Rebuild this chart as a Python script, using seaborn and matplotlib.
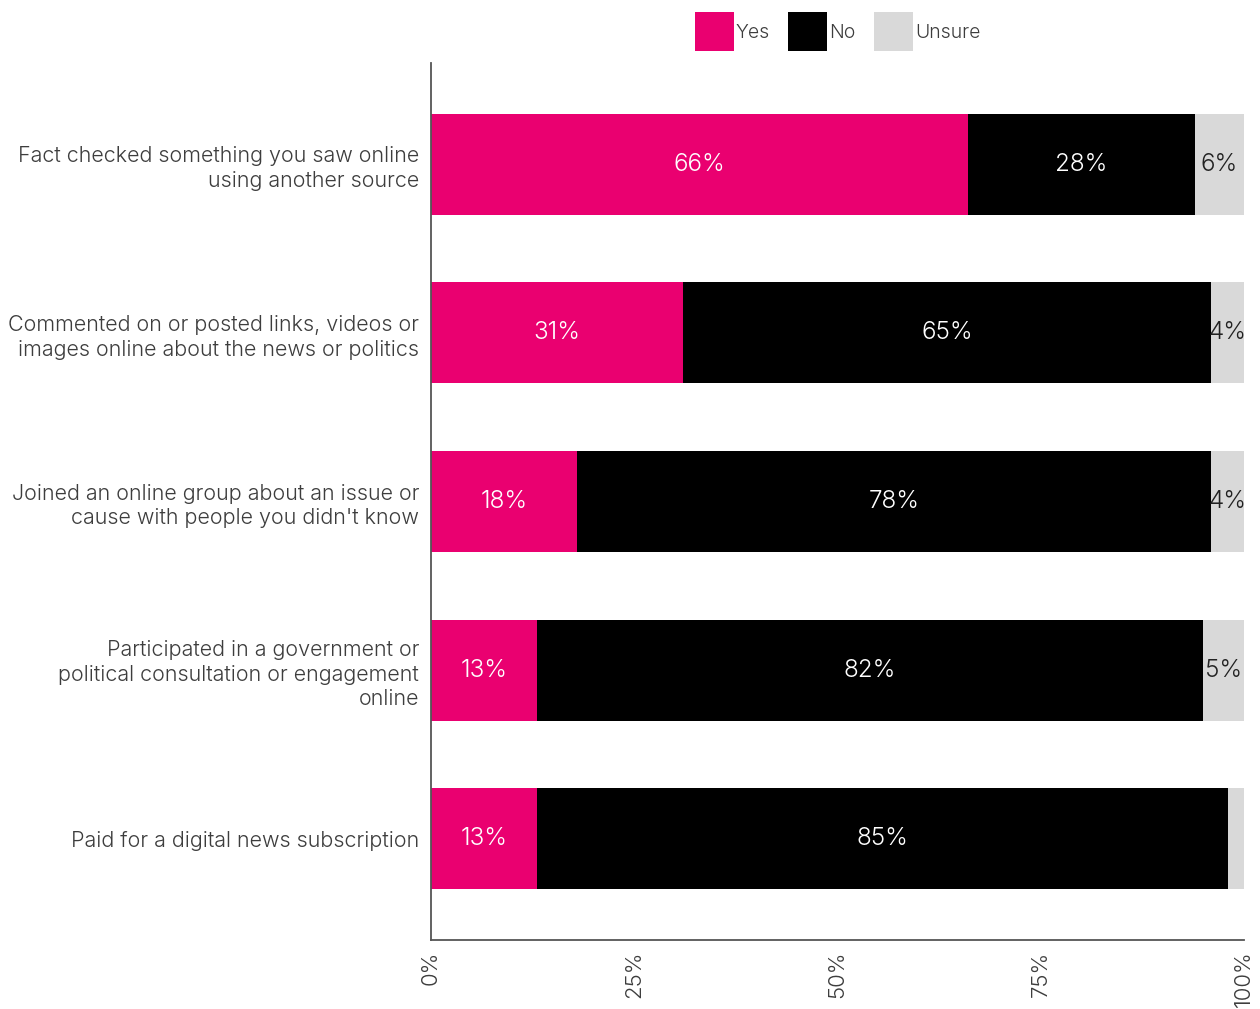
import matplotlib
matplotlib.use("Agg")
import matplotlib.pyplot as plt
import seaborn as sns
import pandas as pd
import numpy as np
from matplotlib.patches import Patch

categories = [
    "Fact checked something you saw online\nusing another source",
    "Commented on or posted links, videos or\nimages online about the news or politics",
    "Joined an online group about an issue or\ncause with people you didn't know",
    "Participated in a government or\npolitical consultation or engagement\nonline",
    "Paid for a digital news subscription",
]
yes = [66, 31, 18, 13, 13]
no = [28, 65, 78, 82, 85]
unsure = [6, 4, 4, 5, 2]
series = ["Yes", "No", "Unsure"]
colors = {"Yes": "#EA0070", "No": "#000000", "Unsure": "#D9D9D9"}
xticks = [0, 25, 50, 75, 100]
xticklabels = ["0%", "25%", "50%", "75%", "100%"]

sns.set_theme(style="white")
plt.rcParams["font.family"] = ["Inter", "DejaVu Sans"]
W = 300
txt = "#3d3d3d"

df = pd.DataFrame({"cat": categories, "Yes": yes, "No": no, "Unsure": unsure})
df["c_yes"] = df["Yes"]
df["c_no"] = df["Yes"] + df["No"]
df["c_un"] = df["Yes"] + df["No"] + df["Unsure"]

fig = plt.figure(figsize=(12.6, 10.09), dpi=100)
ax = fig.add_axes([431/1260, 1-940/1009, (1244-431)/1260, (940-63)/1009])

for col, s in [("c_un", "Unsure"), ("c_no", "No"), ("c_yes", "Yes")]:
    sns.barplot(data=df, y="cat", x=col, color=colors[s], orient="h",
                width=0.6, ax=ax, saturation=1, linewidth=0)

for i, row in df.iterrows():
    left = 0
    for s in series:
        v = row[s]
        if v >= 3:
            c = "white" if s in ("Yes", "No") else "#222222"
            ax.text(left + v/2, i, f"{v}%", ha="center", va="center",
                    color=c, fontsize=17.5, fontweight=W)
        left += v

ax.set_xlim(0, 100)
ax.set_ylim(4.6, -0.6)
ax.set_xticks(xticks)
ax.set_xticklabels(xticklabels, rotation=90, fontsize=16, color=txt, fontweight=W)
ax.tick_params(axis="y", labelsize=15.5, labelcolor=txt, length=5, color="#555555", width=1, pad=3.5)
ax.tick_params(axis="x", length=4, color="#555555", width=1)
for lbl in ax.get_yticklabels():
    lbl.set_fontweight(W)
    lbl.set_linespacing(1.3)
ax.set_xlabel("")
ax.set_ylabel("")
sns.despine(ax=ax)
for sp in ["left", "bottom"]:
    ax.spines[sp].set_color("#555555")
    ax.spines[sp].set_linewidth(1.3)

handles = [Patch(facecolor=colors[s], edgecolor="none", label=s) for s in series]
leg = ax.legend(handles=handles, loc="lower center", bbox_to_anchor=(0.5, 1.0),
                ncol=3, frameon=False, handlelength=2.0, handleheight=2.7,
                handletextpad=0.1, columnspacing=0.95, fontsize=14, borderaxespad=0.2)
for t in leg.get_texts():
    t.set_color(txt)
    t.set_fontweight(W)

fig.savefig("out.png", dpi=100)
